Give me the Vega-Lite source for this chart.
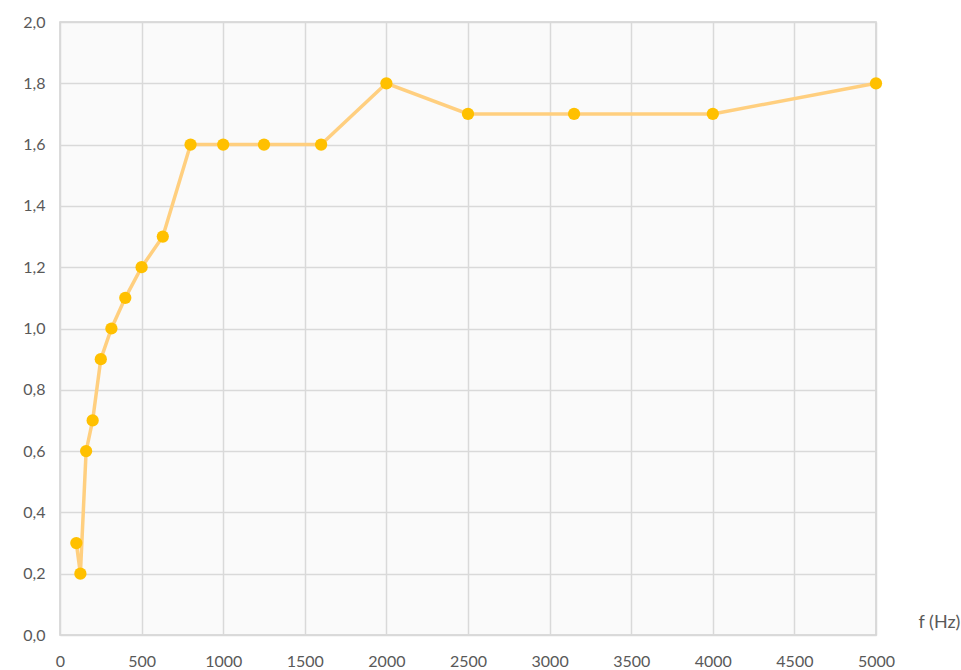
{
  "$schema": "https://vega.github.io/schema/vega-lite/v6.json",
  "width": 816,
  "height": 613,
  "autosize": {"type": "none"},
  "padding": {"left": 60, "top": 22, "right": 85, "bottom": 35},
  "background": "white",
  "config": {
    "font": "Lato",
    "view": {"fill": "#fafafa", "stroke": "#d0d0d0", "strokeWidth": 1.5},
    "axis": {"grid": true, "gridColor": "#d9d9d9", "gridWidth": 1.5, "domain": false, "ticks": false, "labelColor": "#595959", "labelFontSize": 16, "labelFont": "Lato"}
  },
  "data": {"values": [
    {"f": 100, "v": 0.3}, {"f": 125, "v": 0.2}, {"f": 160, "v": 0.6}, {"f": 200, "v": 0.7},
    {"f": 250, "v": 0.9}, {"f": 315, "v": 1.0}, {"f": 400, "v": 1.1}, {"f": 500, "v": 1.2},
    {"f": 630, "v": 1.3}, {"f": 800, "v": 1.6}, {"f": 1000, "v": 1.6}, {"f": 1250, "v": 1.6},
    {"f": 1600, "v": 1.6}, {"f": 2000, "v": 1.8}, {"f": 2500, "v": 1.7}, {"f": 3150, "v": 1.7},
    {"f": 4000, "v": 1.7}, {"f": 5000, "v": 1.8}
  ]},
  "encoding": {
    "x": {"field": "f", "type": "quantitative", "scale": {"domain": [0, 5000], "nice": false},
      "axis": {"values": [0,500,1000,1500,2000,2500,3000,3500,4000,4500,5000], "format": "d", "labelPadding": 18, "labelFlush": false,
        "title": "f (Hz)", "titleX": 858, "titleY": -13, "titleAlign": "left", "titleBaseline": "middle", "titleAnchor": null,
        "titleFontSize": 18, "titleFontWeight": "normal", "titleColor": "#595959", "titleFont": "Lato"}},
    "y": {"field": "v", "type": "quantitative", "scale": {"domain": [0, 2], "nice": false},
      "axis": {"values": [0,0.2,0.4,0.6,0.8,1.0,1.2,1.4,1.6,1.8,2.0], "labelPadding": 15, "title": null,
        "labelExpr": "replace(format(datum.value, '.1f'), '.', ',')"}}
  },
  "layer": [
    {"mark": {"type": "line", "color": "#FFCF7F", "strokeWidth": 3.5}},
    {"mark": {"type": "point", "filled": true, "color": "#FFC000", "size": 150, "opacity": 1}}
  ]
}
